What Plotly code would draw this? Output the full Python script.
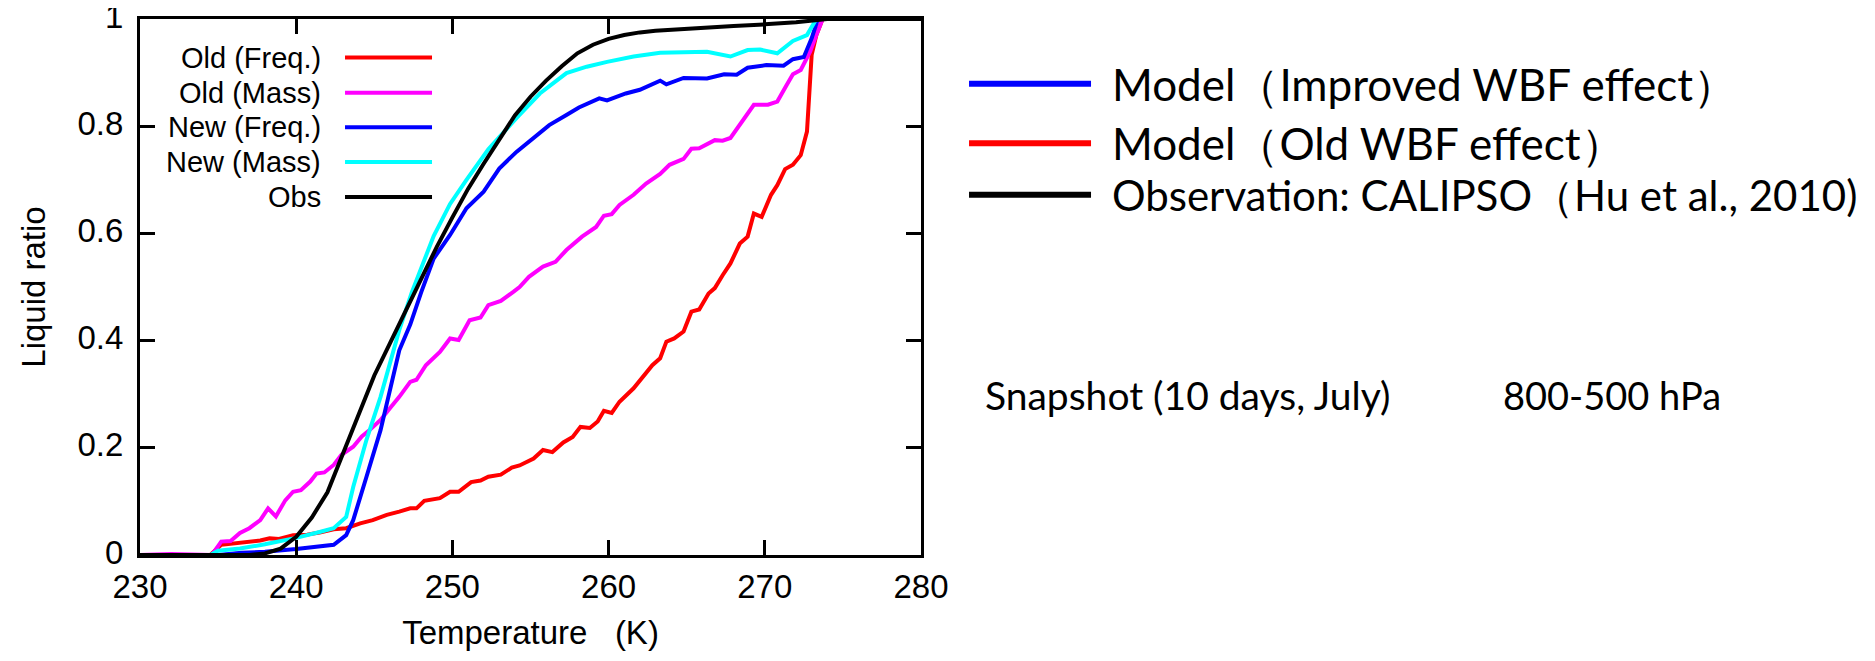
import plotly.graph_objects as go

# temperature (K) / liquid ratio
old_freq_t = [230, 234.5, 235.2, 236.4, 237.7, 238.3, 238.9, 239.8, 240.7, 241.5, 242.4, 243.2, 244.1, 244.9,
              245.8, 246.6, 247.3, 247.7, 248.2, 249.2, 249.85, 250.4, 251.2, 251.8, 252.3, 253.1, 253.8, 254.3,
              255.2, 255.8, 256.4, 257.1, 257.7, 258.2, 258.8, 259.3, 259.7, 260.2, 260.7, 261.6, 262.4, 262.8,
              263.3, 263.7, 264.2, 264.8, 265.3, 265.8, 266.4, 266.8, 267.3, 267.8, 268.4, 268.9, 269.3, 269.8,
              270.4, 270.8, 271.3, 271.8, 272.3, 272.7, 273.0, 273.3, 273.7, 280]
old_freq = [0, 0, 0.019, 0.022, 0.027, 0.031, 0.030, 0.037, 0.038, 0.042, 0.048, 0.050, 0.059, 0.065,
            0.075, 0.081, 0.087, 0.087, 0.101, 0.106, 0.118, 0.118, 0.136, 0.139, 0.146, 0.150, 0.163, 0.167,
            0.180, 0.196, 0.192, 0.210, 0.220, 0.239, 0.237, 0.249, 0.269, 0.265, 0.286, 0.311, 0.339, 0.354,
            0.367, 0.398, 0.404, 0.417, 0.454, 0.458, 0.488, 0.498, 0.522, 0.544, 0.581, 0.594, 0.637, 0.631,
            0.672, 0.690, 0.720, 0.728, 0.746, 0.790, 0.933, 0.970, 1.0, 1.0]

old_mass_t = [230, 232, 234.6, 235.2, 235.8, 236.4, 237.0, 237.7, 238.2, 238.7, 239.3, 239.8, 240.3, 240.9,
              241.3, 241.8, 242.4, 242.9, 243.65, 244.2, 244.7, 245.4, 246.0, 246.6, 247.3, 247.7, 248.3, 249.2,
              249.85, 250.4, 251.1, 251.8, 252.3, 253.1, 253.9, 254.3, 254.9, 255.8, 256.6, 257.3, 258.3, 259.2,
              259.7, 260.2, 260.7, 261.6, 262.4, 263.3, 263.9, 264.8, 265.3, 265.8, 266.8, 267.3, 267.8, 268.4,
              269.3, 270.2, 270.8, 271.4, 271.8, 272.3, 272.9, 273.3, 273.7, 280]
old_mass = [0, 0.002, 0, 0.025, 0.026, 0.041, 0.050, 0.065, 0.087, 0.072, 0.102, 0.118, 0.121, 0.137,
            0.152, 0.154, 0.168, 0.187, 0.202, 0.221, 0.233, 0.252, 0.274, 0.295, 0.323, 0.327, 0.354, 0.379,
            0.404, 0.401, 0.438, 0.443, 0.466, 0.474, 0.491, 0.500, 0.519, 0.538, 0.547, 0.569, 0.594, 0.612,
            0.633, 0.636, 0.653, 0.672, 0.693, 0.711, 0.728, 0.739, 0.758, 0.759, 0.774, 0.773, 0.778, 0.802,
            0.840, 0.840, 0.846, 0.877, 0.897, 0.905, 0.939, 0.970, 1.0, 1.0]

new_freq_t = [230, 235, 236.5, 238, 240, 241, 242.4, 243.2, 243.65, 244.5, 245.4, 246.6, 247.3, 248.0, 248.8,
              249.85, 250.9, 252.0, 253.0, 254.1, 255.2, 256.2, 257.3, 258.1, 259.4, 259.9, 261.1, 262.0, 263.3,
              263.7, 264.8, 266.3, 267.4, 268.2, 268.9, 270.1, 271.2, 271.8, 272.5, 273.0, 273.4, 280]
new_freq = [0, 0, 0.004, 0.006, 0.011, 0.014, 0.019, 0.037, 0.065, 0.146, 0.233, 0.382, 0.43, 0.490, 0.553,
            0.597, 0.647, 0.678, 0.721, 0.752, 0.777, 0.802, 0.821, 0.835, 0.852, 0.848, 0.861, 0.868, 0.885,
            0.878, 0.890, 0.889, 0.897, 0.896, 0.909, 0.914, 0.913, 0.925, 0.929, 0.964, 1.0, 1.0]

new_mass_t = [230, 234.5, 235, 236.4, 238, 240, 241.5, 242.4, 243.2, 243.65, 244.5, 245.4, 246.6, 247.4, 248.8,
              249.85, 250.9, 252.3, 254.1, 255.6, 257.3, 258.6, 259.9, 261.6, 263.3, 264.6, 266.3, 267.8, 268.9,
              269.7, 270.8, 271.8, 272.7, 273.3, 280]
new_mass = [0, 0, 0.008, 0.012, 0.02, 0.032, 0.043, 0.050, 0.071, 0.127, 0.215, 0.295, 0.42, 0.49, 0.595,
            0.655, 0.70, 0.757, 0.815, 0.861, 0.899, 0.911, 0.920, 0.930, 0.937, 0.938, 0.939, 0.930, 0.942,
            0.943, 0.936, 0.959, 0.970, 1.0, 1.0]

obs_t = [230, 237, 238, 239, 240, 241, 242, 243, 244, 245, 246, 247, 248, 249, 250, 251, 252, 253, 254, 255,
         256, 257, 258, 259, 260, 261, 262, 263, 264, 266, 268, 270, 272, 274, 280]
obs = [0, 0, 0.003, 0.012, 0.034, 0.07, 0.117, 0.19, 0.265, 0.335, 0.395, 0.455, 0.515, 0.575, 0.63, 0.683,
       0.73, 0.775, 0.82, 0.855, 0.885, 0.912, 0.936, 0.952, 0.963, 0.97, 0.975, 0.978, 0.98, 0.983, 0.987,
       0.99, 0.994, 1.0, 1.0]

series = [
    ("Old (Freq.)", old_freq_t, old_freq, "#ff0000"),
    ("Old (Mass)", old_mass_t, old_mass, "#ff00ff"),
    ("New (Freq.)", new_freq_t, new_freq, "#0000ff"),
    ("New (Mass)", new_mass_t, new_mass, "#00ffff"),
    ("Obs", obs_t, obs, "#000000"),
]

side_labels = ["Model（Improved WBF effect）", "Model（Old WBF effect）",
               "Observation: CALIPSO（Hu et al., 2010)"]
side_colors = ["#0000ff", "#ff0000", "#000000"]

fig = go.Figure()
for name, t, v, c in series:
    fig.add_trace(go.Scatter(x=t, y=v, mode="lines", name=name,
                             line=dict(color=c, width=4)))

gp_font = "Liberation Sans, Arial, sans-serif"
shapes = []
annos = []

# key inside the plot: label right-aligned, sample line to the right
key_y = [0.928, 0.8625, 0.798, 0.733, 0.668]
for (name, t, v, c), ky in zip(series, key_y):
    annos.append(dict(x=0.2343, y=ky, xref="paper", yref="paper", text=name, showarrow=False,
                      xanchor="right", yanchor="middle", font=dict(family=gp_font, size=29, color="black")))
    shapes.append(dict(type="line", xref="paper", yref="paper", x0=0.2625, x1=0.3739, y0=ky, y1=ky,
                       line=dict(color=c, width=4)))

# side legend
side_y = [0.879, 0.768, 0.672]
side_size = [44, 44, 42]
for lab, c, sy, fs in zip(side_labels, side_colors, side_y, side_size):
    shapes.append(dict(type="line", xref="paper", yref="paper", x0=1.0615, x1=1.2177, y0=sy, y1=sy,
                       line=dict(color=c, width=6)))
    annos.append(dict(x=1.242, y=sy, xref="paper", yref="paper", text=lab, showarrow=False,
                      xanchor="left", yanchor="middle", font=dict(family="Lato, sans-serif", size=fs, color="black")))

annos.append(dict(x=1.0794, y=0.2985, xref="paper", yref="paper", text="Snapshot (10 days, July)",
                  showarrow=False, xanchor="left", yanchor="middle",
                  font=dict(family="Lato, sans-serif", size=39, color="black")))
annos.append(dict(x=1.7426, y=0.2985, xref="paper", yref="paper", text="800-500 hPa",
                  showarrow=False, xanchor="left", yanchor="middle",
                  font=dict(family="Lato, sans-serif", size=38, color="black")))

axis_common = dict(ticks="inside", ticklen=15, tickwidth=2.5, tickcolor="black",
                   showline=True, linewidth=3, linecolor="black", mirror="ticks",
                   showgrid=False, zeroline=False, automargin=False, ticklabeloverflow="allow",
                   tickfont=dict(family=gp_font, size=33, color="black"))

# page body adds an 8px margin, so the figure is 8px smaller each way
fig.update_layout(
    width=1867, height=653,
    margin=dict(l=132, r=954, t=11, b=106, autoexpand=False),
    paper_bgcolor="white", plot_bgcolor="white",
    showlegend=False,
    shapes=shapes, annotations=annos,
    xaxis=dict(range=[230, 280], tick0=230, dtick=10, ticklabelstandoff=0,
               title=dict(text="Temperature\u00a0\u00a0\u00a0(K)", standoff=18,
                          font=dict(family=gp_font, size=33, color="black")),
               **axis_common),
    yaxis=dict(range=[0, 1], tick0=0, dtick=0.2, ticklabelstandoff=7, ticklabelshift=-3,
               title=dict(text="Liquid ratio", standoff=22,
                          font=dict(family=gp_font, size=33, color="black")),
               **axis_common),
)

fig.write_html("out.html")
